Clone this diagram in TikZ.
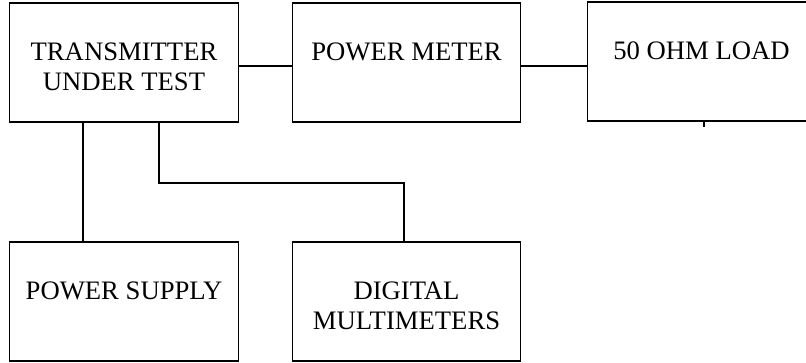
\documentclass[tikz,border=0pt]{standalone}
\usepackage{fontspec}
\setmainfont{Liberation Serif}
\tikzset{
unitbox/.style={draw, line width=0.6pt, inner sep=0, minimum width=102.8pt, minimum height=53.5pt},
boxtext/.style={anchor=north, inner sep=0, align=center, font=\fontsize{12}{13.5}\selectfont},
wire/.style={line width=0.6pt}
}
\begin{document}
\begin{tikzpicture}[x=0.45pt, y=-0.45pt]
\path[use as bounding box, clip] (0,0) rectangle (806,362);
\node[unitbox] (tut) at (124,62.5) {};
\node[unitbox] (pm) at (406.5,62.5) {};
\node[unitbox] (load) at (701.5,61.5) {};
\node[unitbox] (ps) at (124,301.5) {};
\node[unitbox] (dm) at (406.5,301.5) {};
\node[boxtext] (tut-txt) at ([yshift=-18pt]tut.north) {TRANSMITTER\\UNDER TEST};
\node[boxtext] (pm-txt) at ([yshift=-18pt]pm.north) {POWER METER};
\node[boxtext] (load-txt) at ([yshift=-18pt]load.north) {50 OHM LOAD};
\node[boxtext] (ps-txt) at ([yshift=-18pt]ps.north) {POWER SUPPLY};
\node[boxtext] (dm-txt) at ([yshift=-18pt]dm.north) {DIGITAL\\MULTIMETERS};
\draw[wire] ([yshift=-1.6pt]tut.east) -- ([yshift=-1.6pt]pm.west);
\draw[wire] ([yshift=-1.6pt]pm.east) -- ([yshift=-1.6pt]pm.east -| load.west);
\draw[wire] (tut.south -| 83,0) -- (ps.north -| 83,0);
\draw[wire] (tut.south -| 159,0) |- (404,183) -- (dm.north -| 404,0);
\coordinate (load-tap) at (704,127);
\draw[wire] (load.south -| load-tap) -- (load-tap);
\end{tikzpicture}
\end{document}
